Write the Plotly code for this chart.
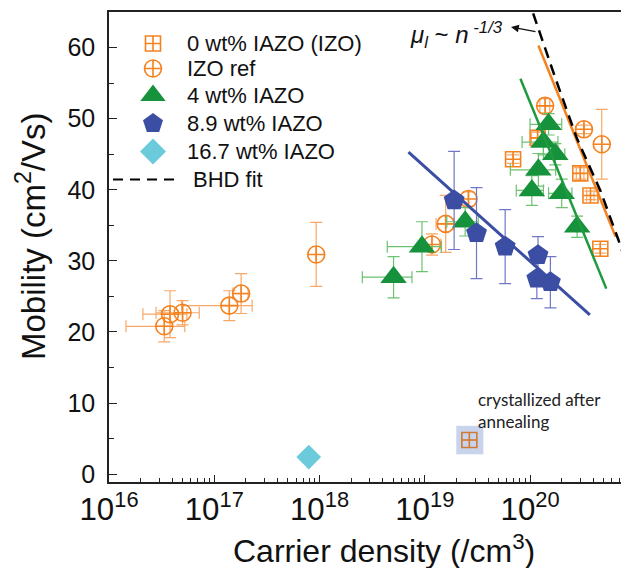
import plotly.graph_objects as go

# ---------------- data ----------------
izo_n = [6.9e19, 1.18e20, 3.0e20, 3.75e20, 4.65e20, 2.65e19]
izo_mu = [44.3, 47.3, 42.3, 39.2, 31.7, 4.8]
izo_mu_err = [0.6, 0.8, 0.8, 0.6, 0.6, 0.0]
izo_n_err = [0, 1.5e19, 2.5e19, 3e19, 0, 0]

ref_n = [3.35e16, 3.8e16, 5.0e16, 1.39e17, 1.8e17, 9.3e17, 1.17e19, 1.58e19, 2.6e19, 1.39e20, 3.25e20, 4.8e20]
ref_mu = [20.8, 22.5, 22.7, 23.7, 25.4, 30.9, 32.3, 35.2, 38.7, 51.8, 48.5, 46.4]
ref_mu_err = [2.2, 3.3, 1.7, 2.1, 2.8, 4.5, 1.5, 4.0, 1.0, 1.0, 0.6, 4.9]
ref_n_err = [1.9e16, 1.7e16, 2.2e16, 9.0e16, 3.0e16, 0, 2.5e18, 3.0e18, 0, 1.5e19, 0, 0]

ia4_n = [5.05e18, 9.4e18, 2.42e19, 1.04e20, 1.2e20, 1.34e20, 1.5e20, 1.74e20, 2.0e20, 2.8e20]
ia4_mu = [27.7, 32.0, 35.5, 39.9, 42.8, 46.7, 49.2, 45.0, 39.5, 34.8]
ia4_mu_err = [2.9, 3.5, 2.0, 2.1, 2.3, 1.8, 1.5, 1.5, 2.0, 1.5]
ia4_n_err = [2.5e18, 5e18, 8e18, 3e19, 5.5e19, 5e19, 5e19, 4e19, 5e19, 0]

ia89_n = [1.9e19, 3.1e19, 5.8e19, 1.19e20, 1.16e20, 1.56e20]
ia89_mu = [38.5, 33.9, 32.0, 30.8, 27.5, 27.0]
ia89_mu_err = [6.9, 6.4, 5.2, 2.6, 2.8, 3.6]

ia167_n = [7.9e17]
ia167_mu = [2.4]

fit_izo_n = [1.2e20, 6.5e20]
fit_izo_mu = [60.3, 33.4]
fit_ia4_n = [8.1e19, 5.3e20]
fit_ia4_mu = [55.6, 26.1]
fit_ia89_n = [7.0e18, 3.7e20]
fit_ia89_mu = [45.3, 22.4]
bhd_n = [1.07e20, 1.74e20, 2.79e20, 4.65e20, 6.93e20, 8.63e20]
bhd_mu = [64.8, 55.7, 47.2, 39.9, 32.9, 28.7]

series_names = ["0 wt% IAZO (IZO)", "IZO ref", "4 wt% IAZO", "8.9 wt% IAZO", "16.7 wt% IAZO", "BHD fit"]

# ---------------- styles ----------------
ORANGE = "#f5821f"
ORANGE_ERR = "#f7a867"
GREEN = "#17923c"
GREEN_ERR = "#6cc270"
BLUE = "#3c4ea3"
BLUE_ERR = "#7078c6"
CYAN = "#6ccbdb"
FONT = "Liberation Sans, Arial, sans-serif"

# page body has an 8px margin: figure is drawn at (8, 8) of the window
OFF = 8
PL, PR, PT, PB = 109, 629, 12, 482          # plot box in window pixels
W, H = 629 - OFF, 568 - OFF                  # figure size
L, T = PL - OFF, PT - OFF
R = W - (PR - OFF)
B = H - (PB - OFF)


def px2paper(px, py):
    return (px - PL) / (PR - PL), (PB - py) / (PB - PT)


fig = go.Figure()

# highlight box behind the annealed sample
an_n, an_mu = izo_n[5], izo_mu[5]
fig.add_trace(go.Scatter(
    x=[an_n / 1.33, an_n * 1.36, an_n * 1.36, an_n / 1.33, an_n / 1.33],
    y=[an_mu - 2.0, an_mu - 2.0, an_mu + 2.0, an_mu + 2.0, an_mu - 2.0],
    mode="lines", fill="toself", fillcolor="#c8d3ec", line=dict(width=0),
    showlegend=False, hoverinfo="skip"))


def err(arr, color):
    return dict(type="data", array=arr, color=color, thickness=1.2, width=6, visible=True)


izo_colors = [ORANGE] * 5 + ["#cf7b33"]
fig.add_trace(go.Scatter(
    x=izo_n, y=izo_mu, mode="markers", name=series_names[0],
    error_y=err(izo_mu_err, ORANGE_ERR), error_x=err(izo_n_err, ORANGE_ERR),
    marker=dict(symbol="square-cross-open", size=15, color=izo_colors, line=dict(width=1.6)),
    showlegend=False, cliponaxis=False))

fig.add_trace(go.Scatter(
    x=ref_n, y=ref_mu, mode="markers", name=series_names[1],
    error_y=err(ref_mu_err, ORANGE_ERR), error_x=err(ref_n_err, ORANGE_ERR),
    marker=dict(symbol="circle-cross-open", size=17, color=ORANGE, line=dict(width=1.6)),
    showlegend=False, cliponaxis=False))

fig.add_trace(go.Scatter(
    x=ia4_n, y=ia4_mu, mode="markers", name=series_names[2],
    error_y=err(ia4_mu_err, GREEN_ERR), error_x=err(ia4_n_err, GREEN_ERR),
    marker=dict(symbol="triangle-up", size=23, color=GREEN, line=dict(width=0)),
    showlegend=False, cliponaxis=False))

fig.add_trace(go.Scatter(
    x=ia89_n, y=ia89_mu, mode="markers", name=series_names[3],
    error_y=err(ia89_mu_err, BLUE_ERR),
    marker=dict(symbol="pentagon", size=22, color=BLUE, line=dict(width=0)),
    showlegend=False, cliponaxis=False))

fig.add_trace(go.Scatter(
    x=ia167_n, y=ia167_mu, mode="markers", name=series_names[4],
    marker=dict(symbol="diamond", size=19, color=CYAN, line=dict(width=0)),
    showlegend=False, cliponaxis=False))

# fit lines
fig.add_trace(go.Scatter(x=fit_izo_n, y=fit_izo_mu, mode="lines",
                         line=dict(color=ORANGE, width=2.5), showlegend=False))
fig.add_trace(go.Scatter(x=fit_ia4_n, y=fit_ia4_mu, mode="lines",
                         line=dict(color="#1f9a3f", width=2.5), showlegend=False))
fig.add_trace(go.Scatter(x=fit_ia89_n, y=fit_ia89_mu, mode="lines",
                         line=dict(color=BLUE, width=3), showlegend=False))
fig.add_trace(go.Scatter(x=bhd_n, y=bhd_mu, mode="lines", name=series_names[5],
                         line=dict(color="black", width=2.5, dash="11px,7px"),
                         showlegend=False))

# ---------------- hand-built legend (overlay axes in paper units) ----------------
leg_rows_py = [43.5, 68.5, 95.5, 123.5, 151.5, 179.5]
leg_marker_px = 153
leg_text_px = 185
leg_syms = [
    dict(symbol="square-cross-open", size=15, color=ORANGE, line=dict(width=1.6)),
    dict(symbol="circle-cross-open", size=17, color=ORANGE, line=dict(width=1.6)),
    dict(symbol="triangle-up", size=22, color=GREEN, line=dict(width=0)),
    dict(symbol="pentagon", size=21, color=BLUE, line=dict(width=0)),
    dict(symbol="diamond", size=20, color=CYAN, line=dict(width=0)),
]
for i, m in enumerate(leg_syms):
    xp, yp = px2paper(leg_marker_px, leg_rows_py[i])
    fig.add_trace(go.Scatter(x=[xp], y=[yp], xaxis="x2", yaxis="y2", mode="markers",
                             marker=m, showlegend=False, hoverinfo="skip", cliponaxis=False))

annotations = []
for i, name in enumerate(series_names):
    tx = leg_text_px if i < 5 else 191
    xp, yp = px2paper(tx, leg_rows_py[i])
    annotations.append(dict(x=xp, y=yp, xref="paper", yref="paper", text=name,
                            showarrow=False, xanchor="left", yanchor="middle",
                            font=dict(family=FONT, size=22, color="#111")))

shapes = []
x0, y0 = px2paper(113, leg_rows_py[5])
x1, _ = px2paper(181, leg_rows_py[5])
shapes.append(dict(type="line", xref="paper", yref="paper", x0=x0, x1=x1, y0=y0, y1=y0,
                   line=dict(color="black", width=2, dash="10px,7px")))

# axis titles
xp, yp = px2paper(384, 549)
annotations.append(dict(x=xp, y=yp, xref="paper", yref="paper",
                        text="Carrier density (/cm<sup>3</sup>)", showarrow=False,
                        xanchor="center", yanchor="middle",
                        font=dict(family=FONT, size=32, color="#111")))
xp, yp = px2paper(31, 236)
annotations.append(dict(x=xp, y=yp, xref="paper", yref="paper",
                        text="Mobility (cm<sup>2</sup>/Vs)", showarrow=False, textangle=-90,
                        xanchor="center", yanchor="middle",
                        font=dict(family=FONT, size=33, color="#111")))

# mu ~ n^-1/3 label and arrow
xp, yp = px2paper(408, 35)
annotations.append(dict(x=xp, y=yp, xref="paper", yref="paper",
                        text="<i>μ<sub>l</sub></i> ~ <i>n</i><sup><i> -1/3</i></sup>",
                        showarrow=False, xanchor="left", yanchor="middle",
                        font=dict(family=FONT, size=24, color="#111")))
xp, yp = px2paper(511, 27)
annotations.append(dict(x=xp, y=yp, xref="paper", yref="paper", text="",
                        showarrow=True, arrowhead=2, arrowsize=1.2, arrowwidth=1.3,
                        arrowcolor="#111", ax=26, ay=5))

# crystallized note
xp, yp = px2paper(476, 410)
annotations.append(dict(x=xp, y=yp, xref="paper", yref="paper",
                        text="crystallized after<br>annealing", showarrow=False,
                        xanchor="left", yanchor="middle", align="left",
                        font=dict(family="Lato, Open Sans, sans-serif", size=17, color="#222")))

fig.update_layout(
    width=W, height=H, autosize=False,
    margin=dict(l=L, r=R, t=T, b=B, pad=0, autoexpand=False),
    paper_bgcolor="white", plot_bgcolor="white",
    showlegend=False,
    font=dict(family=FONT, color="#111"),
    xaxis=dict(type="log", range=[16, 20.94], tickmode="linear", tick0=0, dtick=1,
               exponentformat="power", showexponent="all",
               ticks="inside", ticklen=7, tickwidth=1.3, tickcolor="#222",
               minor=dict(ticks="inside", ticklen=4, tickwidth=1.1, tickcolor="#222", dtick="D1"),
               showline=True, linecolor="#222", linewidth=1.5, mirror=True,
               showgrid=False, zeroline=False, ticklabelstandoff=0, automargin=False,
               tickfont=dict(family=FONT, size=25, color="#111")),
    yaxis=dict(range=[-1.1, 65], tickmode="linear", tick0=0, dtick=10,
               ticks="inside", ticklen=8, tickwidth=1.3, tickcolor="#222",
               minor=dict(ticks="inside", ticklen=5, tickwidth=1.1, tickcolor="#222", dtick=5),
               showline=True, linecolor="#222", linewidth=1.5, mirror=False,
               showgrid=False, zeroline=False, ticklabelstandoff=7, automargin=False,
               tickfont=dict(family=FONT, size=25, color="#111")),
    xaxis2=dict(overlaying="x", range=[0, 1], visible=False, anchor="y2"),
    yaxis2=dict(overlaying="y", range=[0, 1], visible=False, anchor="x2"),
    annotations=annotations,
    shapes=shapes,
)

fig.write_html("out.html")
